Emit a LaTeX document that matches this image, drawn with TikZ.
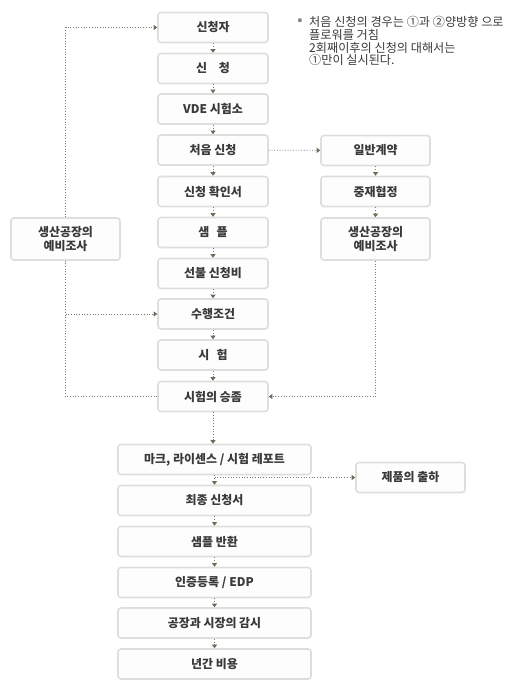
\documentclass[tikz,border=0pt]{standalone}
\usepackage{fontspec}
\setmainfont{Noto Sans CJK KR}
\newfontfamily\symfont{DejaVu Sans}
\usetikzlibrary{arrows.meta}

\definecolor{boxline}{HTML}{DEDEDE}
\definecolor{boxfill}{HTML}{FDFDFD}
\definecolor{txt}{HTML}{3A3A3A}
\definecolor{dots}{HTML}{7A7A7A}
\definecolor{tip}{HTML}{6C6C58}

\tikzset{
  box/.style={draw=boxline, line width=1.6bp, fill=boxfill, rounded corners=3bp,
    minimum width=110bp, minimum height=30bp, inner sep=0pt, align=center,
    text=txt, font=\fontsize{12}{14}\selectfont\bfseries},
  wide/.style={box, minimum width=193bp},
  tall/.style={box, minimum width=109bp, minimum height=42bp},
  link/.style={draw=dots, line width=0.7bp, dash pattern=on 0.9bp off 1.8bp},
  flow/.style={link, -{Triangle[width=5bp,length=3.5bp,color=tip]}},
  note/.style={inner sep=0pt, align=left, text=txt,
    font=\fontsize{12.2}{12.6}\selectfont}
}

\begin{document}
\begin{tikzpicture}[x=1bp,y=-1bp]
  \useasboundingbox (0,0) rectangle (518,692);

  % main column
  \foreach \n/\y/\t in
  {apply/27.5/{신청자}, request/68.5/{신\hspace{1em}청},
    vde/109/{VDE 시험소}, first/150/{처음 신청},
    confirm/191.5/{신청 확인서}, sample/232.5/{샘\hspace{.6em}플},
    prepay/273.5/{선불 신청비}, cond/314/{수행조건},
    test/355/{시\hspace{.6em}험}, approve/396.5/{시험의 승좀}}
  \node[box] (\n) at (213,\y) {\t};

  % lower column
  \foreach \n/\y/\t in
  {mark/459.5/{마크, 라이센스 / 시험 레포트}, final/500.5/{최종 신청서},
    back/541.5/{샘플 반환}, regist/582.5/{인증등록 / EDP},
    watch/623/{공장과 시장의 감시}, fee/664/{년간 비용}}
  \node[wide] (\n) at (214.5,\y) {\t};

  % side boxes
  \node[box, minimum width=109bp] (contract) at (375.5,150.5) {일반계약};
  \node[box, minimum width=109bp] (mediate) at (375.5,191.5) {중재협정};
  \node[tall] (preR) at (375.5,239) {생산공장의\\예비조사};
  \node[tall] (preL) at (65.5,239) {생산공장의\\예비조사};
  \node[box, minimum width=109bp] (ship) at (410.5,477.5) {제품의 출하};

  % note
  \node[note, text=gray] (bullet) at (300,21) {\symfont\fontsize{7}{8}\selectfont ▪};
  \node[note, anchor=north west] (remark) at (309,16.5)
  {처음 신청의 경우는 ①과 ②양방향 으로\\플로워를 거침\\
    2회째이후의 신청의 대해서는\\①만이 실시된다.};

  % connectors
  \foreach \a/\b in {apply/request, request/vde, vde/first, first/confirm,
    confirm/sample, sample/prepay, prepay/cond, cond/test, test/approve,
    approve/mark, mark/final, final/back, back/regist, regist/watch,
    watch/fee, contract/mediate, mediate/preR}
  \draw[flow] (\a.south) -- (\a.south |- \b.north);

  \draw[flow] (first) -- (contract);
  \draw[flow] (preR) |- (approve);
  \draw[link] (approve) -| (preL);
  \draw[flow] (preL) |- (apply);
  \draw[flow] (preL |- cond) -- (cond);
  \draw[flow] (mark.south |- ship) -- (ship);

\end{tikzpicture}
\end{document}
